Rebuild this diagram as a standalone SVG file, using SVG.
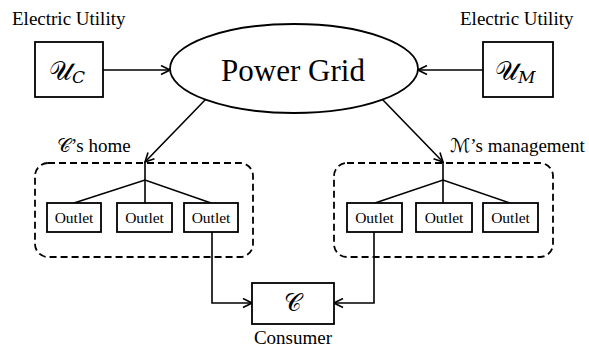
<svg xmlns="http://www.w3.org/2000/svg" width="589" height="349" viewBox="0 0 589 349">
<style>
  text { font-family: "Liberation Serif", "DejaVu Serif", serif; fill: #000; }
  .lbl { font-size: 19px; }
  .out { font-size: 15.5px; text-anchor: middle; }
  .math { font-family: "DejaVu Serif", "DejaVu Sans", "Noto Sans", serif; }
  .box { fill: #fff; stroke: #000; stroke-width: 1.8; }
  .dash { fill: none; stroke: #000; stroke-width: 1.8; stroke-dasharray: 7 4; }
  .ln { fill: none; stroke: #000; stroke-width: 1.6; }
</style>
<defs>
  <marker id="arr" markerWidth="11" markerHeight="11" refX="10" refY="5.5" orient="auto" markerUnits="userSpaceOnUse">
    <path d="M1,1 L10,5.5 L1,10" fill="none" stroke="#000" stroke-width="1.6"/>
  </marker>
</defs>
<rect width="589" height="349" fill="#fff"/>

<g id="home-group">
  <rect class="dash" x="35" y="163" width="218" height="94" rx="13"/>
  <text class="lbl" x="57" y="152"><tspan class="math">𝒞</tspan>’s home</text>
</g>
<g id="mgmt-group">
  <rect class="dash" x="334" y="163" width="219" height="94" rx="13"/>
  <text class="lbl" x="450" y="152"><tspan class="math">ℳ</tspan>’s management</text>
</g>

<g id="connectors">
  <line class="ln" x1="103" y1="70" x2="170" y2="70" marker-end="url(#arr)"/>
  <line class="ln" x1="483" y1="70" x2="418" y2="70" marker-end="url(#arr)"/>
  <line class="ln" x1="206" y1="99" x2="145" y2="162" marker-end="url(#arr)"/>
  <line class="ln" x1="382" y1="99" x2="443" y2="162" marker-end="url(#arr)"/>
  <polyline class="ln" points="145,162 145,180"/>
  <polyline class="ln" points="74,203 145,180 211,203"/>
  <line class="ln" x1="145" y1="180" x2="145" y2="203"/>
  <polyline class="ln" points="443,162 443,180"/>
  <polyline class="ln" points="375,203 443,180 510,203"/>
  <line class="ln" x1="443" y1="180" x2="443" y2="203"/>
  <polyline class="ln" points="212,232 212,303 252,303" marker-end="url(#arr)"/>
  <polyline class="ln" points="374,232 374,303 334,303" marker-end="url(#arr)"/>
</g>

<g id="uc">
  <text class="lbl" x="12" y="25">Electric Utility</text>
  <rect class="box" x="35" y="42" width="68" height="55"/>
  <text class="math" x="49" y="80" font-size="26">𝒰<tspan font-size="17" dy="3">𝐶</tspan></text>
</g>
<g id="um">
  <text class="lbl" x="460" y="25">Electric Utility</text>
  <rect class="box" x="483" y="42" width="70" height="55"/>
  <text class="math" x="495" y="80" font-size="26">𝒰<tspan font-size="17" dy="3">𝑀</tspan></text>
</g>
<g id="grid">
  <ellipse class="box" cx="294" cy="68.5" rx="124" ry="44.5"/>
  <text x="293" y="81" font-size="31" text-anchor="middle">Power Grid</text>
</g>

<g id="c-outlet1"><rect class="box" x="47" y="203" width="54" height="29"/><text class="out" x="74" y="223">Outlet</text></g>
<g id="c-outlet2"><rect class="box" x="117" y="203" width="55" height="29"/><text class="out" x="144.5" y="223">Outlet</text></g>
<g id="c-outlet3"><rect class="box" x="184" y="203" width="54" height="29"/><text class="out" x="211" y="223">Outlet</text></g>
<g id="m-outlet1"><rect class="box" x="347" y="203" width="55" height="29"/><text class="out" x="374.5" y="223">Outlet</text></g>
<g id="m-outlet2"><rect class="box" x="416" y="203" width="56" height="29"/><text class="out" x="444" y="223">Outlet</text></g>
<g id="m-outlet3"><rect class="box" x="483" y="203" width="55" height="29"/><text class="out" x="510.5" y="223">Outlet</text></g>

<g id="consumer">
  <rect class="box" x="252" y="283" width="82" height="41"/>
  <text class="math" x="293" y="311" font-size="24" text-anchor="middle">𝒞</text>
  <text class="lbl" x="293" y="344" text-anchor="middle">Consumer</text>
</g>
</svg>
